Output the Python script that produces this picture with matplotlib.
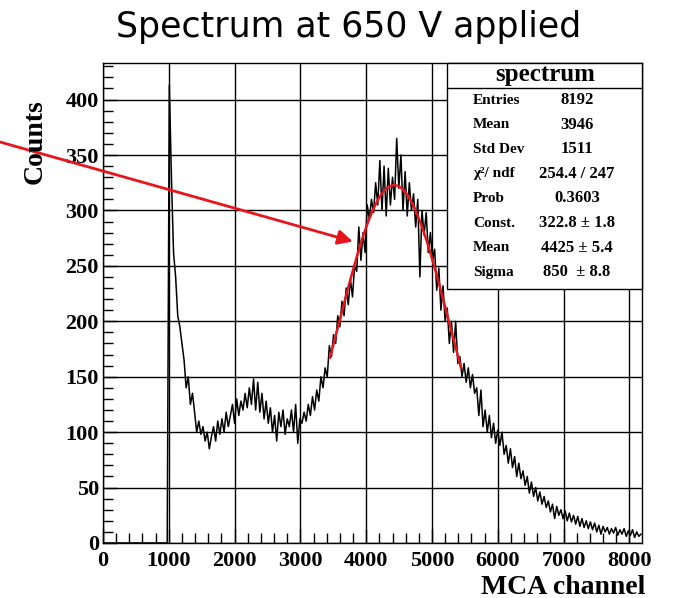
"""Spectrum at 650 V applied - MCA histogram with gaussian fit."""

import numpy as np
import matplotlib
matplotlib.use("Agg")
import matplotlib.pyplot as plt
from matplotlib.patches import Rectangle
from matplotlib.ticker import MultipleLocator

# histogram: 256 bins of 32 channels, counts
BIN_WIDTH = 32
N_CHANNELS = 8192

counts = [0] * 31 + [
    # 992 - 2271: spike, fall and the low shoulder
    413, 330, 262, 240, 205, 195, 180, 165, 140, 150,
    125, 135, 118, 100, 110, 98, 105, 92, 100, 85,
    96, 105, 92, 110, 98, 112, 100, 118, 105, 115,
    125, 108, 130, 115, 128, 120, 135, 122, 140, 125,
    # 2272 - 3423: bump and valley before the peak
    148, 120, 145, 118, 135, 112, 128, 108, 122, 100,
    115, 92, 118, 105, 120, 98, 112, 105, 120, 100,
    125, 90, 112, 108, 118, 110, 125, 115, 132, 120,
    138, 128, 150, 140, 158, 150,
    # 3424 - 8191: photopeak and tail
    178, 168, 188, 180, 205, 195, 218, 205, 230, 215,
    238, 222, 250, 245, 285, 255, 280, 262, 305, 292,
    310, 298, 325, 305, 345, 300, 340, 295, 338, 305,
    330, 310, 365, 320, 350, 300, 335, 295, 325, 300,
    315, 285, 310, 240, 300, 278, 298, 262, 280, 255,
    265, 228, 248, 210, 232, 200, 212, 180, 200, 172,
    200, 162, 168, 150, 162, 145, 158, 140, 152, 135,
    140, 115, 138, 105, 120, 100, 115, 95, 108, 90,
    102, 88, 100, 80, 88, 72, 85, 68, 78, 60,
    72, 58, 65, 52, 60, 45, 55, 42, 50, 38,
    46, 35, 42, 32, 38, 28, 35, 22, 33, 25,
    30, 22, 29, 20, 27, 19, 25, 17, 24, 15,
    22, 14, 20, 13, 19, 12, 18, 10, 16, 8,
    15, 10, 14, 8, 13, 9, 14, 7, 12, 8,
    13, 6, 11, 7, 12, 5, 10, 6, 8,
]

# fit result shown in the stats box
FIT_CONST = 322.8
FIT_MEAN = 4425
FIT_SIGMA = 850
FIT_RANGE = (3450, 5440)

stat_labels = ["Entries", "Mean", "Std Dev", "\u03c7\u00b2/ ndf", "Prob",
               "Const.", "Mean", "Sigma"]
stat_values = ["8192", "3946", "1511", "254.4 / 247", "0.3603",
               "322.8 \u00b1 1.8", "4425 \u00b1 5.4", "850  \u00b1 8.8"]

SERIF = ["Liberation Serif", "DejaVu Serif"]

fig = plt.figure(figsize=(6.74, 5.98), dpi=100)
ax = fig.add_axes([103 / 674, 55 / 598, 539 / 674, 480 / 598])

# draw as a polyline through the bin centres, like the ROOT canvas
centres = np.arange(N_CHANNELS // BIN_WIDTH) * BIN_WIDTH + BIN_WIDTH / 2
ax.plot(centres, counts, color="black", lw=1.1, zorder=3)

xfit = np.linspace(FIT_RANGE[0], FIT_RANGE[1], 300)
yfit = FIT_CONST * np.exp(-0.5 * ((xfit - FIT_MEAN) / FIT_SIGMA) ** 2)
ax.plot(xfit, yfit, color="#e8141b", lw=1.8, zorder=4)

ax.set_xlim(0, N_CHANNELS)
ax.set_ylim(0, 433)
ax.xaxis.set_major_locator(MultipleLocator(1000))
ax.xaxis.set_minor_locator(MultipleLocator(200))
ax.yaxis.set_major_locator(MultipleLocator(50))
ax.yaxis.set_minor_locator(MultipleLocator(10))
ax.grid(True, which="major", color="black", lw=1.0, zorder=1)
ax.tick_params(which="both", direction="in", top=False, right=False)
ax.tick_params(which="major", length=10, width=1)
ax.tick_params(which="minor", length=7, width=1)
ax.tick_params(axis="x", which="major", pad=6)
ax.tick_params(axis="y", which="major", pad=3)
for lab in ax.get_xticklabels() + ax.get_yticklabels():
    lab.set_family(SERIF)
    lab.set_fontweight("bold")
    lab.set_fontsize(16)
for sp in ax.spines.values():
    sp.set_linewidth(1.0)

fig.text(645 / 674, 1 - 587 / 598, "MCA channel", family=SERIF,
         fontweight="bold", fontsize=20, ha="right", va="center")
fig.text(35 / 674, 1 - 142 / 598, "Counts", family=SERIF,
         fontweight="bold", fontsize=20, rotation=90, ha="center", va="center")
fig.text(349 / 674, 1 - 37 / 598, "Spectrum at 650 V applied",
         family="DejaVu Sans", fontsize=25, ha="center", va="baseline")

# stats box
box_left, box_bottom = 0.638, 0.529
ax.add_patch(Rectangle((box_left, box_bottom), 1 - box_left, 1 - box_bottom,
                       transform=ax.transAxes, facecolor="white",
                       edgecolor="black", lw=1.0, zorder=5, clip_on=False))
ax.plot([box_left, 1], [0.948, 0.948], transform=ax.transAxes,
        color="black", lw=1.0, zorder=6, clip_on=False)
ax.text(0.8195, 0.975, "spectrum", transform=ax.transAxes, family=SERIF,
        fontweight="bold", fontsize=18, ha="center", va="center", zorder=7)
row_top = 1 - (100 - 63) / 480
row_step = 24.6 / 480
for i, (lab, val) in enumerate(zip(stat_labels, stat_values)):
    yy = row_top - i * row_step
    ax.text((473 - 103) / 539, yy, lab, transform=ax.transAxes, family=SERIF,
            fontweight="bold", fontsize=11, ha="left", va="center", zorder=7)
    ax.text((577 - 103) / 539, yy, val, transform=ax.transAxes, family=SERIF,
            fontweight="bold", fontsize=12, ha="center", va="center", zorder=7)

# red arrow pointing at the fitted peak
ax.annotate("", xy=(3796, 272), xycoords="data",
            xytext=(0.0, 1 - 142 / 598), textcoords="figure fraction",
            arrowprops=dict(arrowstyle="-|>", color="#e8141b", lw=2,
                            mutation_scale=22, shrinkA=0, shrinkB=0),
            annotation_clip=False, zorder=8)

fig.savefig("out.png", dpi=100)
